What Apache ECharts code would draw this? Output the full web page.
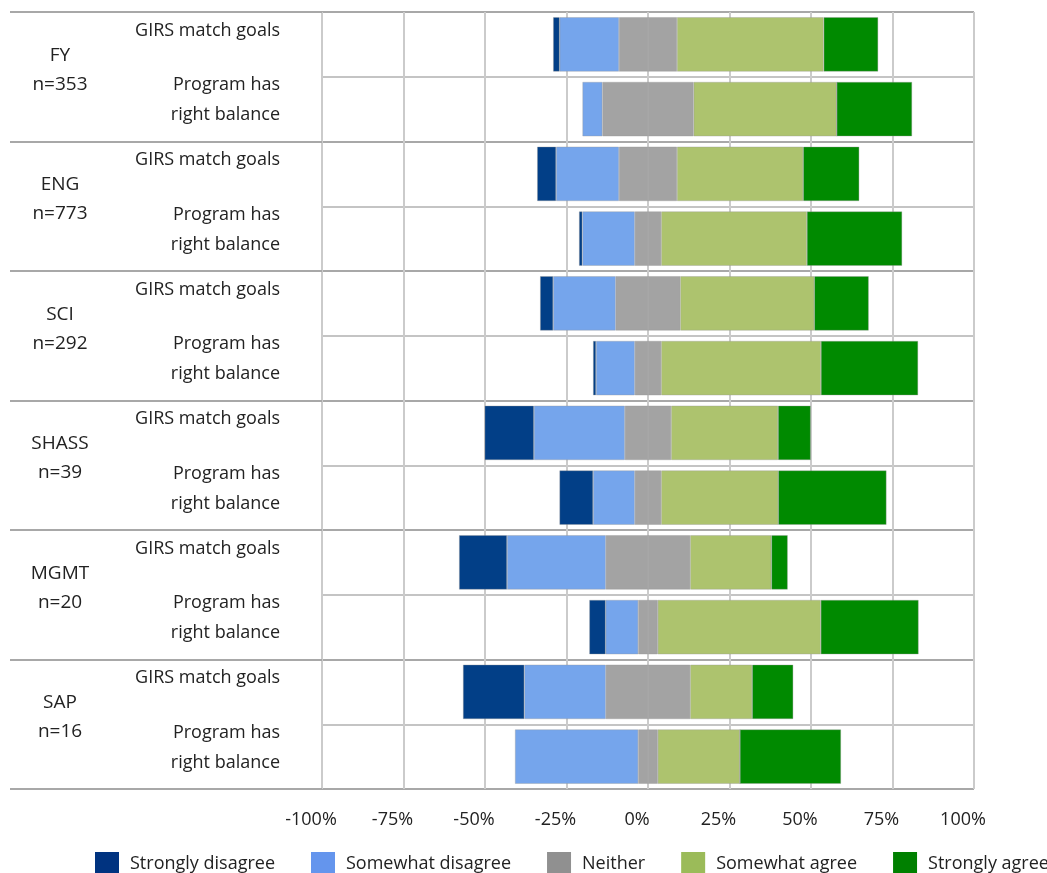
<!DOCTYPE html>
<html>
<head>
<meta charset="utf-8">
<script src="https://cdn.jsdelivr.net/npm/echarts@6/dist/echarts.min.js"></script>
<style>html,body{margin:0;padding:0;background:#fff}#c{width:1047px;height:873px}</style>
</head>
<body>
<div id="c"></div>
<script>
// ---- data ----
var groups = ['FY', 'ENG', 'SCI', 'SHASS', 'MGMT', 'SAP'];
var groupN = ['n=353', 'n=773', 'n=292', 'n=39', 'n=20', 'n=16'];
var questions = ['GIRS match goals', 'Program has right balance'];
var responseNames = ['Strongly disagree', 'Somewhat disagree', 'Neither', 'Somewhat agree', 'Strongly agree'];
var xTicks = [-100, -75, -50, -25, 0, 25, 50, 75, 100];

// percentages per row (group x question), in row order
var stronglyDisagree = [2.0, 0.0, 5.8, 1.0, 4.0, 0.9, 15.1, 10.3, 14.7, 5.0, 18.8, 0.0];
var somewhatDisagree = [18.2, 6.1, 19.3, 16.1, 19.2, 11.9, 27.9, 12.8, 30.3, 10.0, 25.0, 37.8];
var neither          = [17.8, 28.0, 17.8, 8.1, 19.8, 8.1, 14.2, 8.1, 25.9, 6.0, 25.9, 6.0];
var somewhatAgree    = [45.0, 43.9, 38.7, 44.7, 41.1, 49.0, 32.8, 35.9, 24.9, 50.0, 19.0, 25.2];
var stronglyAgree    = [16.7, 23.1, 17.2, 29.2, 16.7, 29.8, 10.0, 33.2, 5.0, 30.0, 12.6, 31.0];

var barColors = ['#023f87', '#75a5ec', '#a3a3a3', '#adc36e', '#008a00'];
var legendColors = ['#003380', '#6495ed', '#909090', '#9bbb59', '#008000'];

// ---- build ----
var rowCats = [];
groups.forEach(function (g) { questions.forEach(function (q) { rowCats.push(q); }); });
var groupCats = groups.map(function (g, i) { return g + '|' + groupN[i]; });

function neg(arr) { return arr.map(function (v) { return -v; }); }
function half(arr, s) { return arr.map(function (v) { return s * v / 2; }); }

var itemBorder = { borderColor: 'rgba(150,150,150,0.6)', borderWidth: 0.6 };
function bar(name, data, color) {
  return {
    name: name, type: 'bar', stack: 'total', data: data,
    barWidth: '84%', yAxisIndex: 0,
    itemStyle: Object.assign({ color: color }, itemBorder),
    emphasis: { disabled: true }
  };
}

var series = [
  bar('Neither', half(neither, -1), barColors[2]),
  bar('Neither', half(neither, 1), barColors[2]),
  bar('Somewhat disagree', neg(somewhatDisagree), barColors[1]),
  bar('Somewhat agree', somewhatAgree, barColors[3]),
  bar('Strongly disagree', neg(stronglyDisagree), barColors[0]),
  bar('Strongly agree', stronglyAgree, barColors[4])
];

var font = '"Open Sans", "Noto Sans", sans-serif';
var chart = echarts.init(document.getElementById('c'), null, { renderer: 'canvas' });
chart.setOption({
  animation: false,
  textStyle: { fontFamily: font, color: '#222' },
  grid: { left: 322, right: 73, top: 12, bottom: 84 },
  legend: {
    left: 95, top: 852, width: 960, itemWidth: 24, itemHeight: 24, itemGap: 36,
    icon: 'rect', padding: 0,
    textStyle: { fontFamily: font, fontSize: 18, color: '#222', padding: [0, 0, 0, 6] },
    data: responseNames.map(function (n, i) { return { name: n, itemStyle: { color: legendColors[i], borderWidth: 0 } }; })
  },
  xAxis: {
    type: 'value', min: -100, max: 100, interval: 25,
    axisLine: { show: false }, axisTick: { show: false },
    splitLine: { show: true, lineStyle: { color: '#cbcbcb', width: 2 } },
    axisLabel: {
      margin: 22, fontSize: 18, color: '#222', fontFamily: font,
      padding: [0, 22, 0, 0],
      formatter: function (v) { return xTicks.indexOf(v) >= 0 ? v + '%' : ''; }
    }
  },
  yAxis: [
    {
      type: 'category', inverse: true, data: rowCats,
      axisLine: { show: false }, axisTick: { show: false },
      splitLine: { show: true, lineStyle: { color: '#c4c4c4', width: 2 } },
      axisLabel: {
        margin: 42, align: 'right', interval: 0, color: '#222',
        formatter: function (v) {
          if (v === 'GIRS match goals') return '{a|' + v + '}\n{s| }';
          return '{a|Program has}\n{a|right balance}\n{t| }';
        },
        rich: {
          a: { fontSize: 18, lineHeight: 30, fontFamily: font, color: '#222' },
          s: { fontSize: 10, lineHeight: 28 },
          t: { fontSize: 10, lineHeight: 18 }
        }
      }
    },
    {
      type: 'category', inverse: true, data: groupCats, position: 'left',
      axisLine: { show: false },
      axisTick: { show: true, length: 312, lineStyle: { color: '#a8a8a8', width: 2 } },
      splitLine: { show: true, lineStyle: { color: '#a8a8a8', width: 2 } },
      axisLabel: {
        margin: 262, align: 'center', interval: 0, color: '#222',
        formatter: function (v) {
          var p = v.split('|');
          return '{g|' + p[0] + '}\n{g|' + p[1] + '}\n{s| }';
        },
        rich: {
          g: { fontSize: 19, lineHeight: 29, fontFamily: font, color: '#222' },
          s: { fontSize: 10, lineHeight: 14 }
        }
      }
    }
  ],
  series: series
});
</script>
</body>
</html>
